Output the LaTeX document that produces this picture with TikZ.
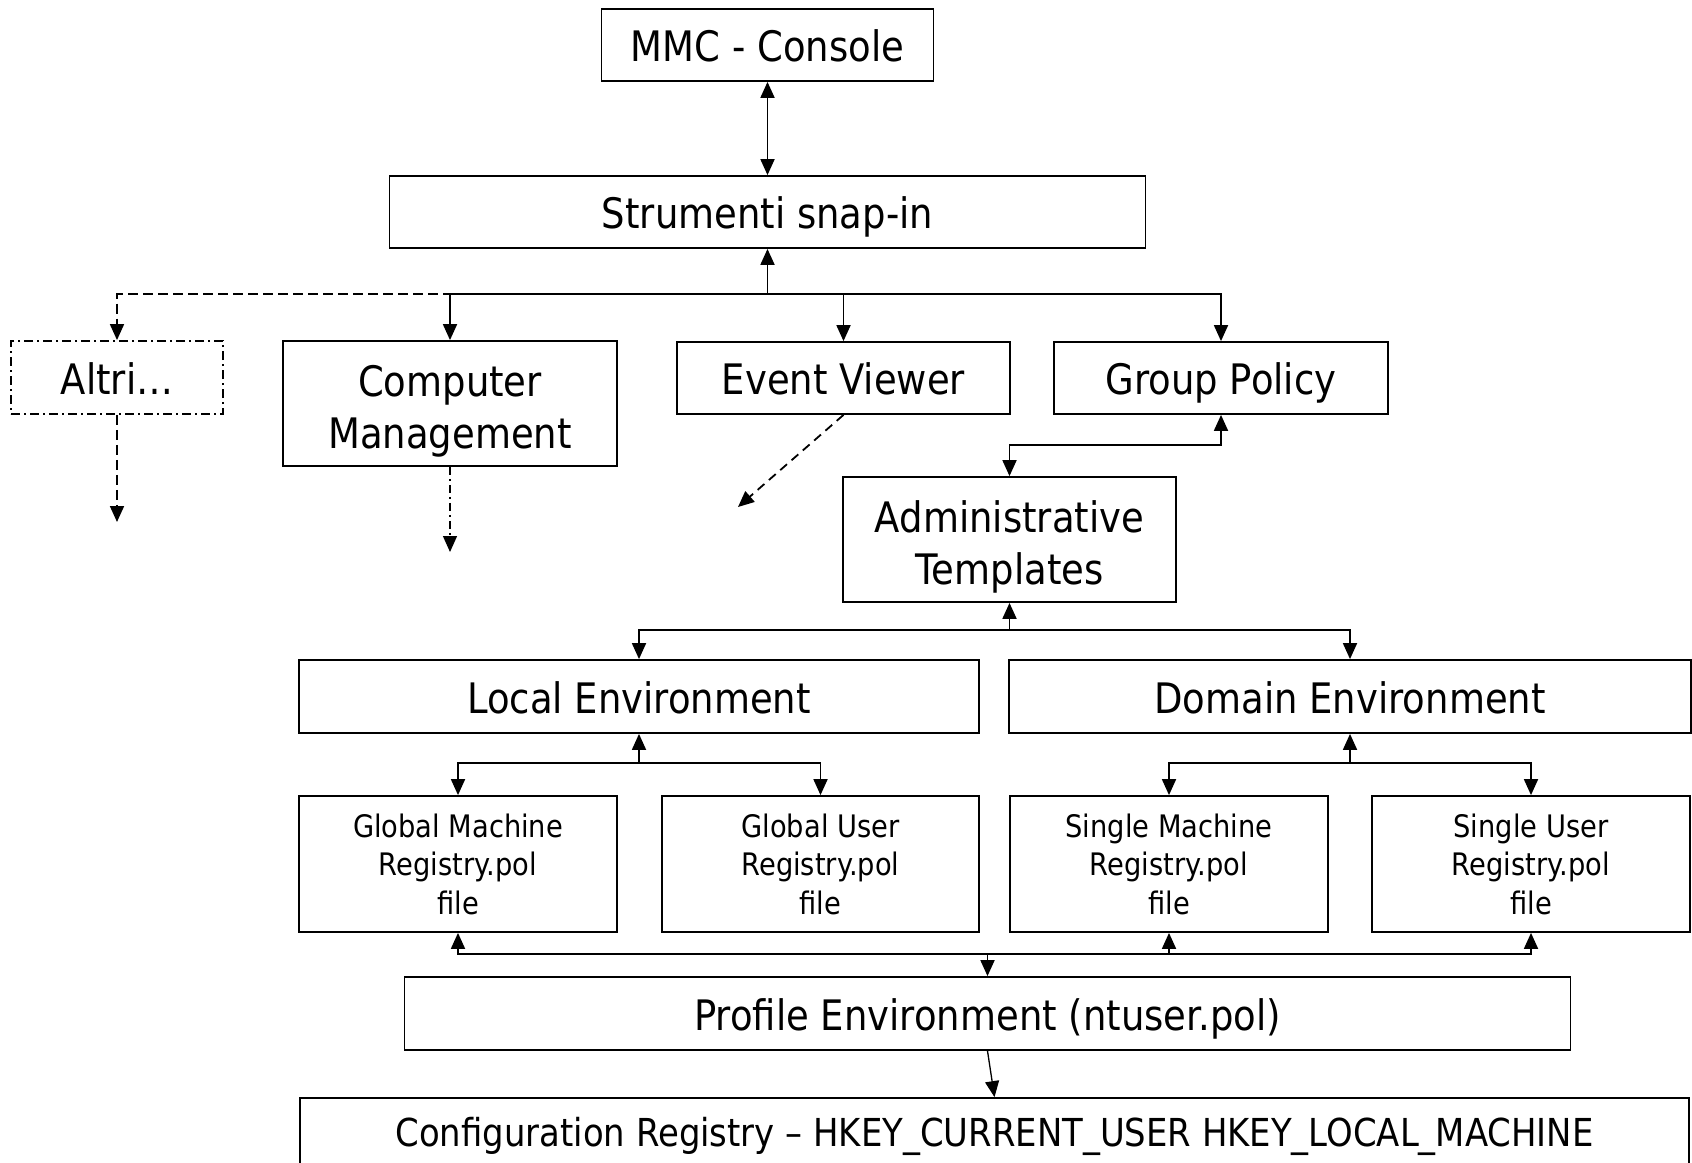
\documentclass[tikz,border=0pt]{standalone}
\usepackage{fontspec}
\setmainfont{DejaVu Sans}[FakeStretch=0.88]
\usetikzlibrary{arrows.meta}

\begin{document}
\begin{tikzpicture}[x=1pt,y=-1pt,
  box/.style={draw, line width=1.8pt, inner sep=0pt, align=center},
  big/.style={font=\fontsize{42}{52}\selectfont},
  small/.style={font=\fontsize{31}{38.5}\selectfont},
  mid/.style={font=\fontsize{38.5}{45}\selectfont},
  bigline/.style={big, text height=33pt, text depth=0pt},
  midline/.style={mid, text height=19pt, text depth=0pt},
  tip/.style={-{Triangle[length=16pt,width=14pt]}},
  link/.style={line width=1.8pt, tip},
  twoway/.style={line width=1.8pt, {Triangle[length=16pt,width=14pt]}-{Triangle[length=16pt,width=14pt]}},
  dashlink/.style={line width=1.8pt, tip, dash pattern=on 10pt off 5pt},
  dotdashlink/.style={line width=1.3pt, tip, dash pattern=on 8pt off 4pt on 2pt off 4pt},
  dotdashbox/.style={line width=1.8pt, dash pattern=on 9pt off 4pt on 2pt off 4pt}
]
\fill[white] (0,0) rectangle (1692,1162);
\useasboundingbox (0,0) rectangle (1692,1162);

% top of the hierarchy
\node[box,bigline,minimum width=332pt,minimum height=72pt] (mmc) at (767.5,45) {MMC - Console};
\node[box,bigline,minimum width=756pt,minimum height=72pt] (snap) at (767.5,212) {Strumenti snap-in};

% snap-in tools
\node[box,dotdashbox,bigline,minimum width=212pt,minimum height=73pt] (altri) at (117,377.5) {Altri…};
\node[box,big,minimum width=334pt,minimum height=125pt] (cm) at (450,403.5) {\rule{0pt}{46pt}Computer\\Management};
\node[box,bigline,minimum width=333pt,minimum height=72pt] (ev) at (843.5,378) {Event Viewer};
\node[box,bigline,minimum width=334pt,minimum height=72pt] (gp) at (1221,378) {Group Policy};
\node[box,big,minimum width=333pt,minimum height=125pt] (adm) at (1009.5,539.5) {\rule{0pt}{46pt}Administrative\\Templates};

% environments
\node[box,bigline,minimum width=680pt,minimum height=73pt] (local) at (639,696.5) {Local Environment};
\node[box,bigline,minimum width=682pt,minimum height=73pt] (domain) at (1350,696.5) {Domain Environment};

% registry.pol files
\node[box,small,minimum width=318pt,minimum height=136pt] (gm) at (458,864) {Global Machine\\Registry.pol\\file};
\node[box,small,minimum width=317pt,minimum height=136pt] (gu) at (820.5,864) {Global User\\Registry.pol\\file};
\node[box,small,minimum width=318pt,minimum height=136pt] (sm) at (1169,864) {Single Machine\\Registry.pol\\file};
\node[box,small,minimum width=318pt,minimum height=136pt] (su) at (1531,864) {Single User\\Registry.pol\\file};

% profile and registry
\node[box,bigline,minimum width=1166pt,minimum height=73pt] (prof) at (987.5,1013.5) {Profile Environment (ntuser.pol)};
\node[box,midline,minimum width=1389pt,minimum height=78pt] (reg) at (994.5,1137) {Configuration Registry -- HKEY\_CURRENT\_USER HKEY\_LOCAL\_MACHINE};

% junction points
\coordinate (busA) at (767.5,294);
\coordinate (busB) at (1009.5,630);
\coordinate (busL) at (639,763);
\coordinate (busD) at (1350,763);
\coordinate (busP) at (987.5,954);
\coordinate (altriEnd) at (117,522);
\coordinate (cmEnd) at (450,552);
\coordinate (evEnd) at (738,507);

% connectors
\draw[twoway] (mmc) -- (snap);
\draw[dashlink] (busA) -| (altri.north);
\draw[link] (busA) -- (snap.south);
\draw[link] (busA) -| (cm.north);
\draw[link] (busA) -| (ev.north);
\draw[link] (busA) -| (gp.north);

\draw[dashlink] (altri.south) -- (altriEnd);
\draw[dotdashlink] (cm.south) -- (cmEnd);
\draw[dashlink, dash pattern=on 9pt off 6pt] (ev.south) -- (evEnd);

\draw[twoway] (adm.north) -- ++(0,-31) -| (gp.south);

\draw[link] (busB) -- (adm.south);
\draw[link] (busB) -| (local.north);
\draw[link] (busB) -| (domain.north);

\draw[link] (busL) -- (local.south);
\draw[link] (busL) -| (gm.north);
\draw[link] (busL) -| (gu.north);

\draw[link] (busD) -- (domain.south);
\draw[link] (busD) -| (sm.north);
\draw[link] (busD) -| (su.north);

\draw[link] (busP) -- (prof.north);
\draw[link] (busP) -| (gm.south);
\draw[link] (busP) -| (su.south);
\draw[link] (sm.south |- busP) -- (sm.south);

\draw[link, line width=1.3pt] (prof.south) -- (reg.north);
\end{tikzpicture}
\end{document}
